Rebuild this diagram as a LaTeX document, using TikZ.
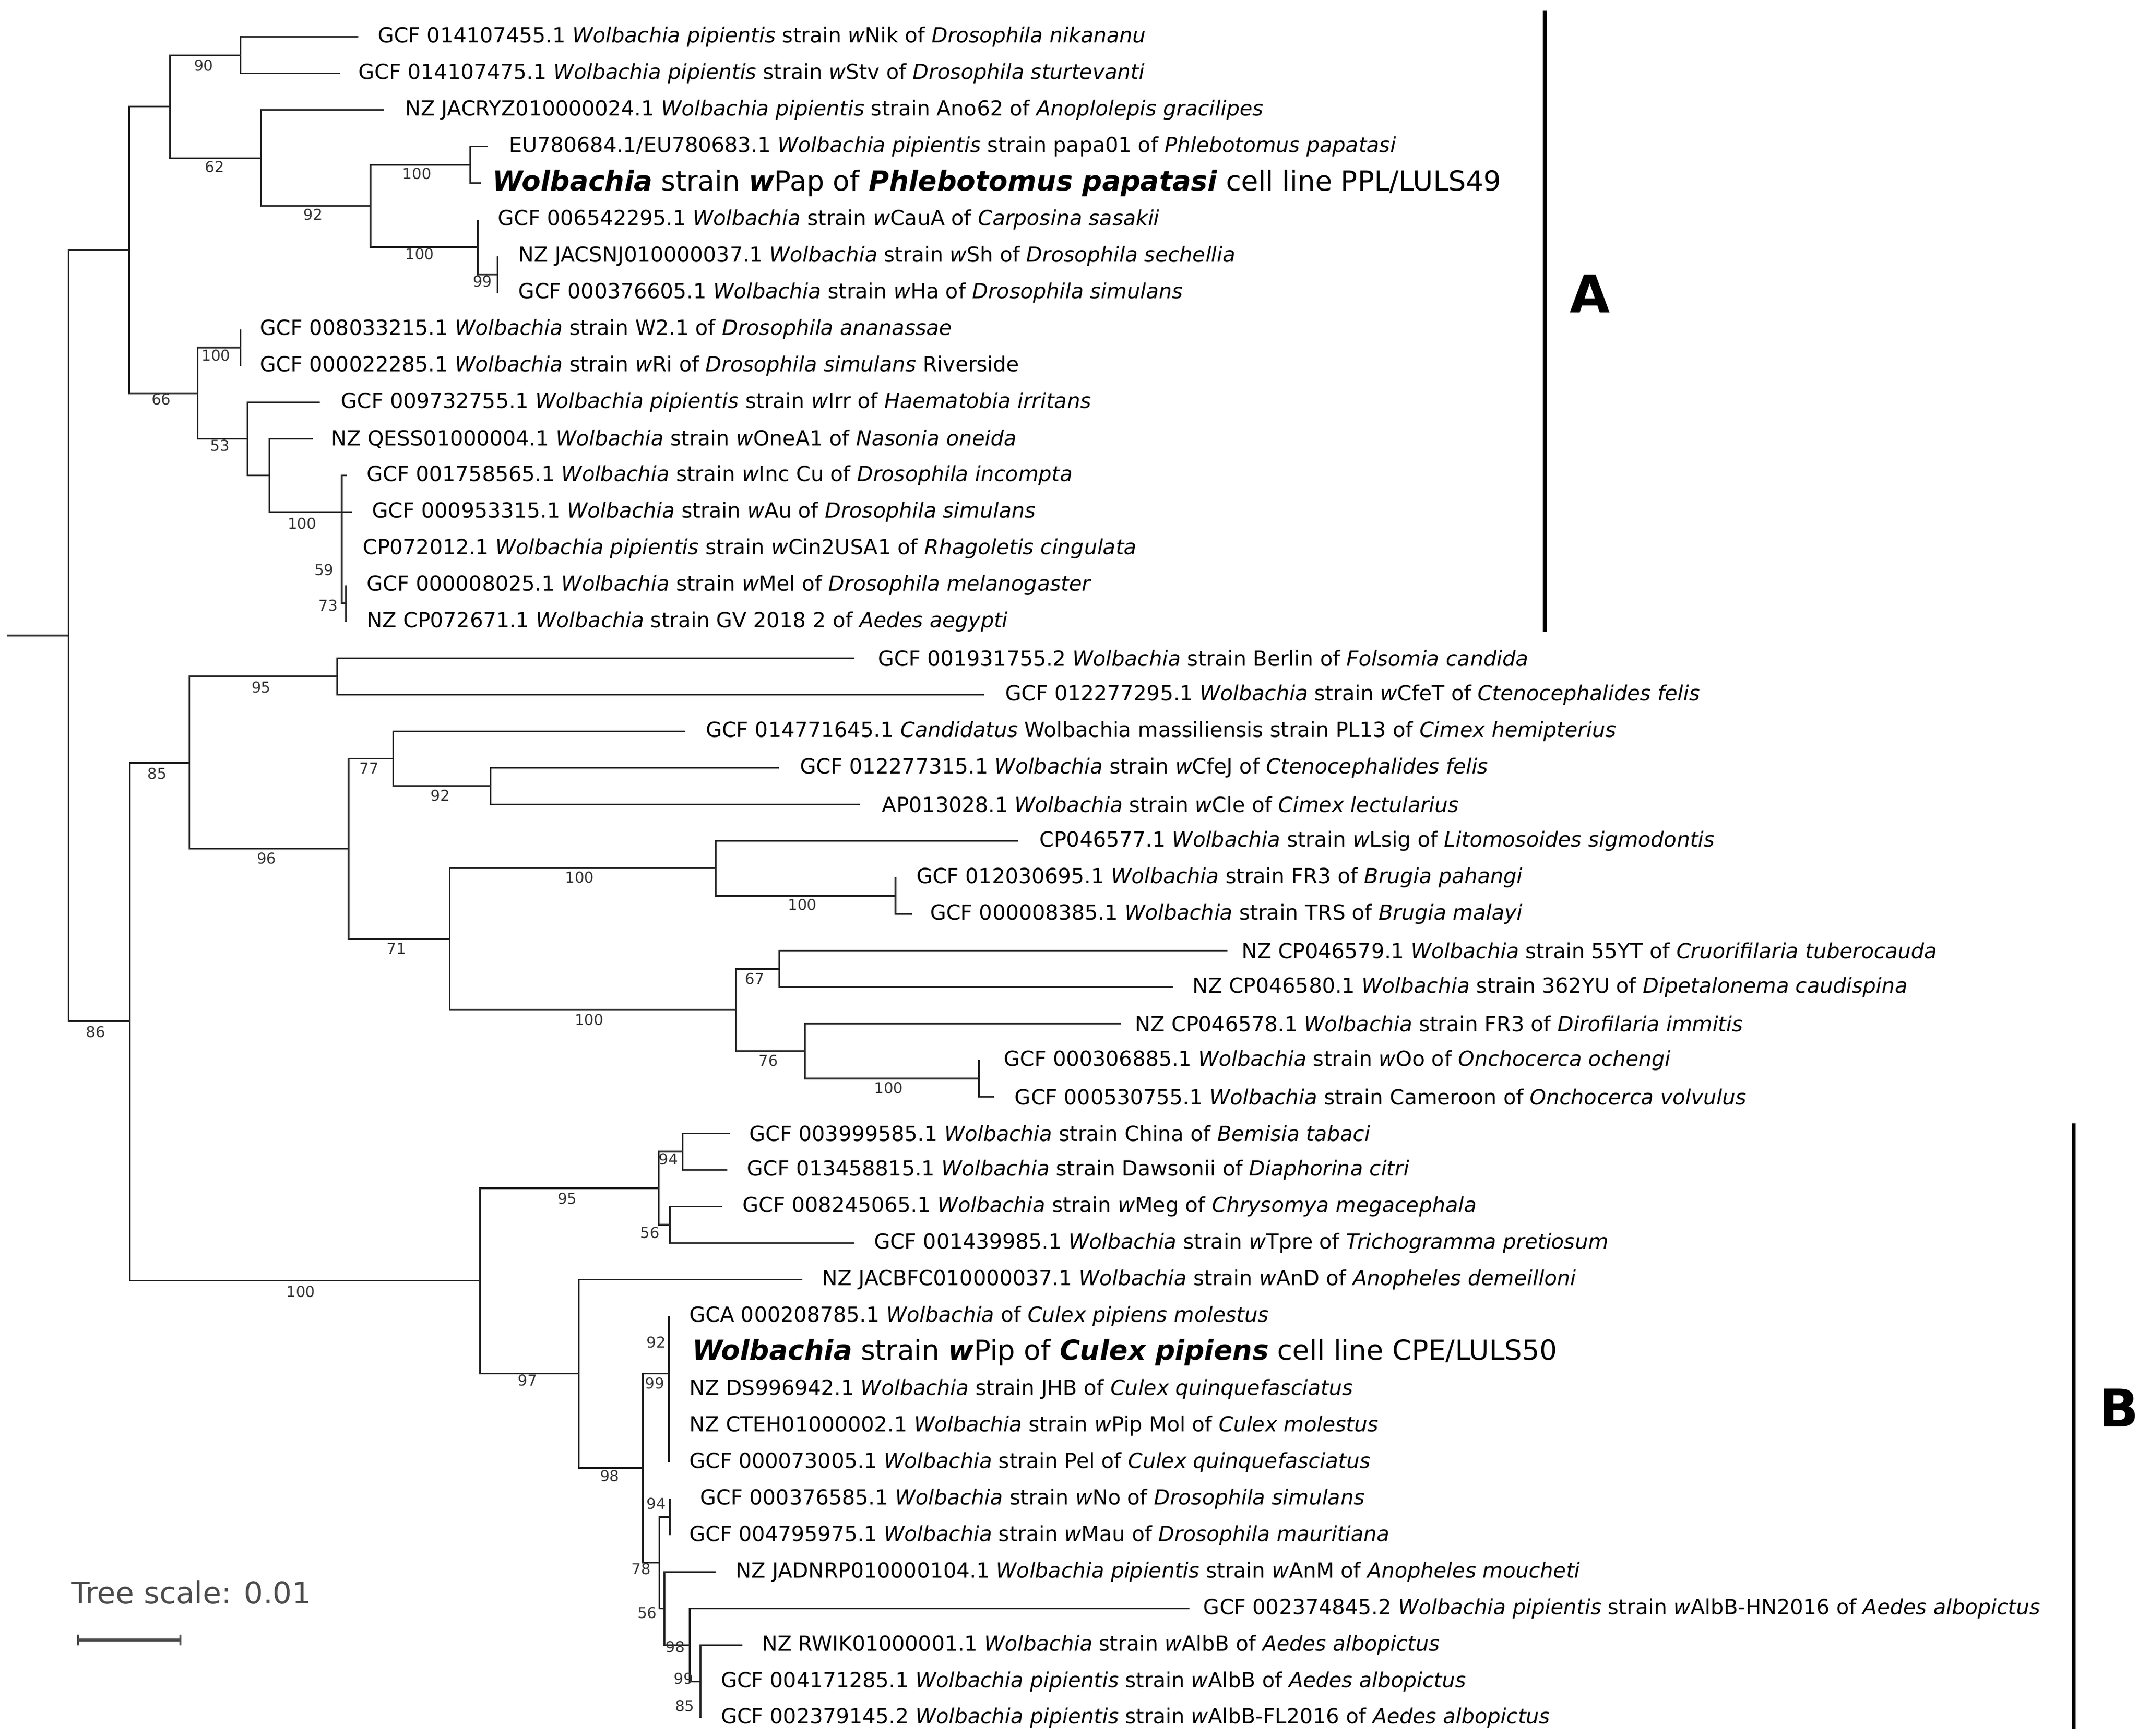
\documentclass[tikz,border=0pt]{standalone}
\usepackage{fontspec}
\setmainfont{DejaVu Sans}
\begin{document}
\begin{tikzpicture}[x=0.5pt,y=-0.5pt,
  br/.style={line width=0.6pt,black!85},
  lab/.style={anchor=west,inner sep=0pt,font=\fontsize{7.6}{9}\selectfont},
  big/.style={anchor=west,inner sep=0pt,font=\fontsize{10.1}{11}\selectfont},
  bs/.style={inner sep=0pt,font=\fontsize{5.5}{6}\selectfont,black!80},
  bar/.style={line width=1.5pt,black}]
\useasboundingbox (0,0) rectangle (1564,1270);
\newcommand\lf[5]{\coordinate (t#1) at (#2,{27+26.74*(#1-1)}); \node[lab] (l#1) at (#3,{27+26.74*(#1-1)}) {#5};}
\newcommand\lfb[5]{\coordinate (t#1) at (#2,{27+26.74*(#1-1)}); \node[big] (l#1) at (#3,{27+26.74*(#1-1)}) {#5};}
% leaves
\lf{1}{262}{276}{}{GCF 014107455.1 \textit{Wolbachia pipientis} strain \textit{w}Nik of \textit{Drosophila nikananu}}
\lf{2}{249}{262}{}{GCF 014107475.1 \textit{Wolbachia pipientis} strain \textit{w}Stv of \textit{Drosophila sturtevanti}}
\lf{3}{281}{296}{}{NZ JACRYZ010000024.1 \textit{Wolbachia pipientis} strain Ano62 of \textit{Anoplolepis gracilipes}}
\lf{4}{357}{372}{}{EU780684.1/EU780683.1 \textit{Wolbachia pipientis} strain papa01 of \textit{Phlebotomus papatasi}}
\lfb{5}{352}{360}{}{\textbf{\textit{Wolbachia}} strain \textbf{\textit{w}}Pap of \textbf{\textit{Phlebotomus papatasi}} cell line PPL/LULS49}
\lf{6}{349.5}{364}{}{GCF 006542295.1 \textit{Wolbachia} strain \textit{w}CauA of \textit{Carposina sasakii}}
\lf{7}{364}{379}{}{NZ JACSNJ010000037.1 \textit{Wolbachia} strain \textit{w}Sh of \textit{Drosophila sechellia}}
\lf{8}{364}{379}{}{GCF 000376605.1 \textit{Wolbachia} strain \textit{w}Ha of \textit{Drosophila simulans}}
\lf{9}{176}{190}{}{GCF 008033215.1 \textit{Wolbachia} strain W2.1 of \textit{Drosophila ananassae}}
\lf{10}{176}{190}{}{GCF 000022285.1 \textit{Wolbachia} strain \textit{w}Ri of \textit{Drosophila simulans} Riverside}
\lf{11}{234}{249}{}{GCF 009732755.1 \textit{Wolbachia pipientis} strain \textit{w}Irr of \textit{Haematobia irritans}}
\lf{12}{229}{242}{}{NZ QESS01000004.1 \textit{Wolbachia} strain \textit{w}OneA1 of \textit{Nasonia oneida}}
\lf{13}{254}{268}{}{GCF 001758565.1 \textit{Wolbachia} strain \textit{w}Inc Cu of \textit{Drosophila incompta}}
\lf{14}{257.5}{272}{}{GCF 000953315.1 \textit{Wolbachia} strain \textit{w}Au of \textit{Drosophila simulans}}
\lf{15}{250}{265}{}{CP072012.1 \textit{Wolbachia pipientis} strain \textit{w}Cin2USA1 of \textit{Rhagoletis cingulata}}
\lf{16}{253}{268}{}{GCF 000008025.1 \textit{Wolbachia} strain \textit{w}Mel of \textit{Drosophila melanogaster}}
\lf{17}{253}{268}{}{NZ CP072671.1 \textit{Wolbachia} strain GV 2018 2 of \textit{Aedes aegypti}}
\lf{18}{625}{642}{}{GCF 001931755.2 \textit{Wolbachia} strain Berlin of \textit{Folsomia candida}}
\lf{19}{720}{735}{}{GCF 012277295.1 \textit{Wolbachia} strain \textit{w}CfeT of \textit{Ctenocephalides felis}}
\lf{20}{501.5}{516}{}{GCF 014771645.1 \textit{Candidatus} Wolbachia massiliensis strain PL13 of \textit{Cimex hemipterius}}
\lf{21}{570}{585}{}{GCF 012277315.1 \textit{Wolbachia} strain \textit{w}CfeJ of \textit{Ctenocephalides felis}}
\lf{22}{629}{645}{}{AP013028.1 \textit{Wolbachia} strain \textit{w}Cle of \textit{Cimex lectularius}}
\lf{23}{745}{760}{}{CP046577.1 \textit{Wolbachia} strain \textit{w}Lsig of \textit{Litomosoides sigmodontis}}
\lf{24}{655}{670}{}{GCF 012030695.1 \textit{Wolbachia} strain FR3 of \textit{Brugia pahangi}}
\lf{25}{667}{680}{}{GCF 000008385.1 \textit{Wolbachia} strain TRS of \textit{Brugia malayi}}
\lf{26}{898}{908}{}{NZ CP046579.1 \textit{Wolbachia} strain 55YT of \textit{Cruorifilaria tuberocauda}}
\lf{27}{858}{872}{}{NZ CP046580.1 \textit{Wolbachia} strain 362YU of \textit{Dipetalonema caudispina}}
\lf{28}{820}{830}{}{NZ CP046578.1 \textit{Wolbachia} strain FR3 of \textit{Dirofilaria immitis}}
\lf{29}{716}{734}{}{GCF 000306885.1 \textit{Wolbachia} strain \textit{w}Oo of \textit{Onchocerca ochengi}}
\lf{30}{727}{742}{}{GCF 000530755.1 \textit{Wolbachia} strain Cameroon of \textit{Onchocerca volvulus}}
\lf{31}{534}{548}{}{GCF 003999585.1 \textit{Wolbachia} strain China of \textit{Bemisia tabaci}}
\lf{32}{532}{546}{}{GCF 013458815.1 \textit{Wolbachia} strain Dawsonii of \textit{Diaphorina citri}}
\lf{33}{528}{543}{}{GCF 008245065.1 \textit{Wolbachia} strain \textit{w}Meg of \textit{Chrysomya megacephala}}
\lf{34}{625}{639}{}{GCF 001439985.1 \textit{Wolbachia} strain \textit{w}Tpre of \textit{Trichogramma pretiosum}}
\lf{35}{587}{601}{}{NZ JACBFC010000037.1 \textit{Wolbachia} strain \textit{w}AnD of \textit{Anopheles demeilloni}}
\lf{36}{489.3}{504}{}{GCA 000208785.1 \textit{Wolbachia} of \textit{Culex pipiens molestus}}
\lfb{37}{489.3}{506}{}{\textbf{\textit{Wolbachia}} strain \textbf{\textit{w}}Pip of \textbf{\textit{Culex pipiens}} cell line CPE/LULS50}
\lf{38}{489.3}{504}{}{NZ DS996942.1 \textit{Wolbachia} strain JHB of \textit{Culex quinquefasciatus}}
\lf{39}{489.3}{504}{}{NZ CTEH01000002.1 \textit{Wolbachia} strain \textit{w}Pip Mol of \textit{Culex molestus}}
\lf{40}{489.3}{504}{}{GCF 000073005.1 \textit{Wolbachia} strain Pel of \textit{Culex quinquefasciatus}}
\lf{41}{490}{512}{}{GCF 000376585.1 \textit{Wolbachia} strain \textit{w}No of \textit{Drosophila simulans}}
\lf{42}{490}{504}{}{GCF 004795975.1 \textit{Wolbachia} strain \textit{w}Mau of \textit{Drosophila mauritiana}}
\lf{43}{523.6}{538}{}{NZ JADNRP010000104.1 \textit{Wolbachia pipientis} strain \textit{w}AnM of \textit{Anopheles moucheti}}
\lf{44}{870}{880}{}{GCF 002374845.2 \textit{Wolbachia pipientis} strain \textit{w}AlbB-HN2016 of \textit{Aedes albopictus}}
\lf{45}{543}{557}{}{NZ RWIK01000001.1 \textit{Wolbachia} strain \textit{w}AlbB of \textit{Aedes albopictus}}
\lf{46}{512.4}{527}{}{GCF 004171285.1 \textit{Wolbachia pipientis} strain \textit{w}AlbB of \textit{Aedes albopictus}}
\lf{47}{512.4}{527}{}{GCF 002379145.2 \textit{Wolbachia pipientis} strain \textit{w}AlbB-FL2016 of \textit{Aedes albopictus}}
% internal nodes
\coordinate (r0) at (5,465);
\coordinate (root) at (50,465);
\coordinate (A) at (94.5,182.9);
\coordinate (n62) at (124.5,78);
\coordinate (n90) at (176,40.4);
\coordinate (nano) at (191,115.6);
\coordinate (n92) at (271,150.7);
\coordinate (npap) at (344,120.6);
\coordinate (n100b) at (349.5,180.8);
\coordinate (n99) at (364,200.8);
\coordinate (n66) at (144.5,287.7);
\coordinate (n100c) at (176,254.3);
\coordinate (n53) at (181,321.1);
\coordinate (n100d) at (197,347.9);
\coordinate (n100e) at (250,374.6);
\coordinate (n59) at (253,441.5);
\coordinate (n86) at (95,747);
\coordinate (n85) at (138.5,558);
\coordinate (n95a) at (246.5,494.9);
\coordinate (n96) at (255,621);
\coordinate (n77) at (287.5,555.1);
\coordinate (n92b) at (359,575.2);
\coordinate (n71) at (329,687);
\coordinate (n100f) at (523.5,635);
\coordinate (n100g) at (655,655.4);
\coordinate (n100h) at (538.5,738.9);
\coordinate (n67) at (570,708.9);
\coordinate (n76) at (589,768.9);
\coordinate (n100i) at (716,789.1);
\coordinate (B) at (351.3,937);
\coordinate (n95b) at (482,869.3);
\coordinate (n94) at (499.5,842.6);
\coordinate (n56) at (490,896.1);
\coordinate (n97) at (423.4,1005);
\coordinate (n98) at (470.4,1074);
\coordinate (n99b) at (489.3,1005);
\coordinate (n78) at (482.3,1143.4);
\coordinate (n94c) at (490,1110);
\coordinate (n56b) at (486,1176.8);
\coordinate (n98b) at (504.6,1203.6);
\coordinate (n99c) at (512.4,1230.3);
% branches
\draw[br] (r0) -- (root);
\foreach \p/\c in {root/A,root/n86,A/n62,A/n66,n62/n90,n62/nano,n90/t1,n90/t2,nano/t3,nano/n92,
  n92/npap,n92/n100b,npap/t4,npap/t5,n100b/t6,n100b/n99,n99/t7,n99/t8,
  n66/n100c,n66/n53,n100c/t9,n100c/t10,n53/t11,n53/n100d,n100d/t12,n100d/n100e,
  n100e/t13,n100e/t14,n100e/t15,n100e/n59,n59/t16,n59/t17,
  n86/n85,n86/B,n85/n95a,n85/n96,n95a/t18,n95a/t19,n96/n77,n96/n71,n77/t20,n77/n92b,n92b/t21,n92b/t22,
  n71/n100f,n71/n100h,n100f/t23,n100f/n100g,n100g/t24,n100g/t25,n100h/n67,n100h/n76,n67/t26,n67/t27,
  n76/t28,n76/n100i,n100i/t29,n100i/t30,
  B/n95b,B/n97,n95b/n94,n95b/n56,n94/t31,n94/t32,n56/t33,n56/t34,n97/t35,n97/n98,n98/n99b,n98/n78,
  n99b/t36,n99b/t37,n99b/t38,n99b/t39,n99b/t40,n78/n94c,n78/n56b,n94c/t41,n94c/t42,n56b/t43,n56b/n98b,
  n98b/t44,n98b/n99c,n99c/t45,n99c/t46,n99c/t47}
  \draw[br] (\p) |- (\c);
% bootstrap labels
\foreach \v/\x/\y [count=\i] in {90/149/48,62/157/122,92/229/157,100/305/127,100/307/186,99/353/206,
  66/118/292,100/158/260,53/161/326,100/221/383,59/237/417,73/240/443,
  86/70/755,85/115/566,95/191/503,96/195/628,77/270/562,92/322/582,71/290/694,100/424/642,100/587/662,
  100/431/746,67/552/716,76/562/776,100/650/796,
  100/220/945,95/415/877,94/489/848,56/475.5/902,97/386/1010,98/446/1080,92/480/982,99/479/1012,
  78/469/1148,94/480/1100,56/473.5/1180,98/494/1205,99/500/1228,85/501/1248}
  \node[bs] (b\i) at (\x,\y) {\v};
% clade bars
\coordinate (a1) at (1130,8); \coordinate (a2) at (1130,462);
\draw[bar] (a1) -- (a2);
\node[font=\fontsize{19}{20}\selectfont\bfseries] (cA) at (1163,215) {A};
\coordinate (bb1) at (1517,822); \coordinate (bb2) at (1517,1265);
\draw[bar] (bb1) -- (bb2);
\node[font=\fontsize{19}{20}\selectfont\bfseries] (cB) at (1550,1030) {B};
% scale
\node[anchor=west,inner sep=0pt,font=\fontsize{11}{12}\selectfont,black!70] (ts) at (52,1165) {Tree scale: 0.01};
\coordinate (s1) at (57,1200); \coordinate (s2) at (132,1200);
\draw[line width=1pt,black!70] (s1) -- (s2);
\draw[line width=0.6pt,black!70] ([yshift=2]s1) -- ([yshift=-2]s1) ([yshift=2]s2) -- ([yshift=-2]s2);
\end{tikzpicture}
\end{document}
